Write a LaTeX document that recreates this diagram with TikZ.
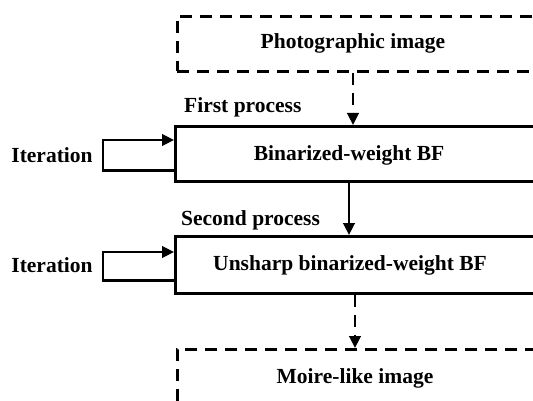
\documentclass[tikz,border=0pt]{standalone}
\usepackage{fontspec}
\setmainfont{Liberation Serif}
\usetikzlibrary{arrows.meta}
\begin{document}
\begin{tikzpicture}[x=1pt,y=-1pt,
  every node/.style={font=\fontsize{21.5}{24}\selectfont\bfseries},
  lw/.style={line width=2.6pt},
  dsh/.style={dash pattern=on 12pt off 8pt},
  tip/.style={-{Triangle[length=12pt,width=11.5pt]}},
  boxfr/.style={rectangle,lw,inner sep=0pt,minimum width=380pt,anchor=north west},
  txt/.style={inner sep=0pt}]
\useasboundingbox (0,0) rectangle (533,401);
\clip (0,0) rectangle (533,401);
% boxes
\node[boxfr,draw,dsh,minimum height=55pt] (top) at (176,15) {};
\node[boxfr,draw,minimum height=55pt] (b1) at (174,125) {};
\node[boxfr,draw,minimum height=57pt] (b2) at (174,235) {};
\node[boxfr,draw,dsh,minimum height=80pt] (bot) at (176,348) {};
% texts
\node[txt] (t0) at (353,43) {Photographic image};
\node[txt] (t1) at (349,155) {Binarized-weight BF};
\node[txt] (t2) at (350,265) {Unsharp binarized-weight BF};
\node[txt] (t3) at (355,378) {Moire-like image};
\node[txt,anchor=west] (l1) at (184,107) {First process};
\node[txt,anchor=west] (l2) at (181,220) {Second process};
\node[txt] (i1) at (52,155) {Iteration};
\node[txt] (i2) at (52,265) {Iteration};
% connectors
\draw[lw,dsh,tip] (top.south -| t0) -- (b1.north -| t0);
\draw[lw,tip] (b1.south -| t1) -- (b2.north -| t1);
\draw[lw,dsh,tip] (b2.south -| t3) -- (bot.north -| t3);
% iteration loops
\draw[lw,tip] ([yshift=12pt]b1.south west) -- ++(-71,0) |- ([yshift=-15pt]b1.north west);
\draw[lw,tip] ([yshift=14pt]b2.south west) -- ++(-71,0) |- ([yshift=-17pt]b2.north west);
\end{tikzpicture}
\end{document}
